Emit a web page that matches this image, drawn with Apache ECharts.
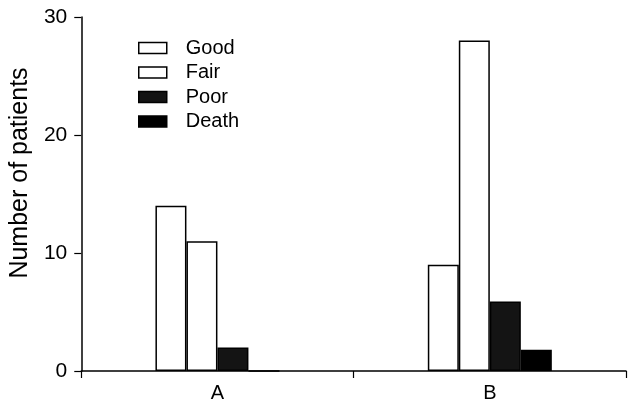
<!DOCTYPE html>
<html><head><meta charset="utf-8">
<script src="https://cdn.jsdelivr.net/npm/echarts@6/dist/echarts.min.js"></script>
<style>html,body{margin:0;padding:0;background:#fff}#c{width:628px;height:405px}</style>
</head><body><div id="c"></div>
<script>
const categories = ['A', 'B'];
const seriesNames = ['Good', 'Fair', 'Poor', 'Death'];
const good = [14, 9];
const fair = [11, 28];
const poor = [2, 5.9];
const death = [0, 1.8];
const yTicks = [0, 10, 20, 30];

const values = [good, fair, poor, death];
const fills = ['#ffffff', '#ffffff', '#141414', '#000000'];
const font = 'Liberation Sans, Arial, sans-serif';

const chart = echarts.init(document.getElementById('c'));
chart.setOption({
  animation: false,
  backgroundColor: '#fff',
  grid: { left: 81, right: 2, top: 17, bottom: 34 },
  legend: {
    orient: 'vertical', left: 138, top: 38, padding: 0,
    icon: 'rect',
    itemWidth: 28, itemHeight: 11, itemGap: 4.5,
    textStyle: { fontFamily: font, fontSize: 20, color: '#000', padding: [0, 0, 0, 14] },
    data: seriesNames.map((n, i) => ({ name: n, itemStyle: { color: fills[i], borderColor: '#000', borderWidth: 1.5 } }))
  },
  xAxis: {
    type: 'category', data: categories,
    axisLine: { lineStyle: { color: '#000', width: 1.5 } },
    axisTick: { show: true, length: 7, lineStyle: { color: '#000', width: 1.2 } },
    axisLabel: { fontFamily: font, fontSize: 20, color: '#000', margin: 12 }
  },
  yAxis: {
    type: 'value', min: yTicks[0], max: yTicks[yTicks.length - 1], interval: 10,
    name: 'Number of patients', nameLocation: 'middle', nameGap: 46,
    nameTextStyle: { fontFamily: font, fontSize: 25, color: '#000', padding: [0, 0, 0, 42] },
    splitLine: { show: false },
    axisLine: { show: true, lineStyle: { color: '#000', width: 1.5 } },
    axisTick: { show: true, length: 7, lineStyle: { color: '#000', width: 1.2 } },
    axisLabel: { fontFamily: font, fontSize: 21, color: '#000', margin: 14 }
  },
  series: seriesNames.map((n, i) => ({
    name: n, type: 'bar', data: values[i],
    barWidth: 31, barGap: '0%',
    itemStyle: { color: fills[i], borderColor: '#000', borderWidth: 1.5 }
  }))
});
</script></body></html>
